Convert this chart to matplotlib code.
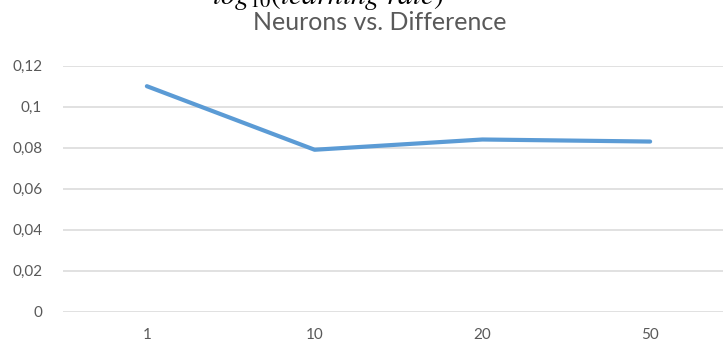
import matplotlib.pyplot as plt

plt.rcParams['font.family'] = ['Lato', 'DejaVu Sans']
plt.rcParams['mathtext.fontset'] = 'stix'

# Number of neurons (categories) and resulting difference
neurons = ['1', '10', '20', '50']
difference = [0.110, 0.079, 0.084, 0.083]
y_ticks = [0, 0.02, 0.04, 0.06, 0.08, 0.10, 0.12]
y_labels = ['0', '0,02', '0,04', '0,06', '0,08', '0,1', '0,12']

W, H = 723, 344
fig = plt.figure(figsize=(W / 100, H / 100), dpi=100)

# plot area runs past the right edge, like the cropped original
left, right, top, bottom = 63, 734, 65.7, 311.7
ax = fig.add_axes([left / W, 1 - bottom / H, (right - left) / W, (bottom - top) / H])

x = range(len(neurons))
ax.plot(x, difference, color='#5B9BD5', lw=3, solid_capstyle='round', zorder=3)

ax.set_xlim(-0.5, len(neurons) - 0.5)
ax.set_ylim(0, 0.12)
ax.set_yticks(y_ticks)
ax.set_yticklabels(y_labels)
ax.set_xticks(list(x))
ax.set_xticklabels(neurons)
ax.grid(axis='y', color='#D9D9D9', lw=1.1)
ax.set_axisbelow(True)
for s in ax.spines.values():
    s.set_visible(False)
ax.tick_params(length=0, labelsize=11, labelcolor='#595959')
ax.tick_params(axis='y', pad=15)
ax.tick_params(axis='x', pad=12)

# title, first line is cut off at the top of the image
fig.text(212 / W, 1 - 3.5 / H, r'$log_{10}(learning\ rate)$', fontsize=21,
         color='black', va='baseline', ha='left')
fig.text(458 / W, 1 - 0.5 / H, 'Number of', fontsize=18,
         color='#595959', va='baseline', ha='left')
fig.text(380 / W, 1 - 30 / H, 'Neurons vs. Difference', fontsize=18,
         color='#595959', va='baseline', ha='center')

fig.savefig('out.png', dpi=100)
